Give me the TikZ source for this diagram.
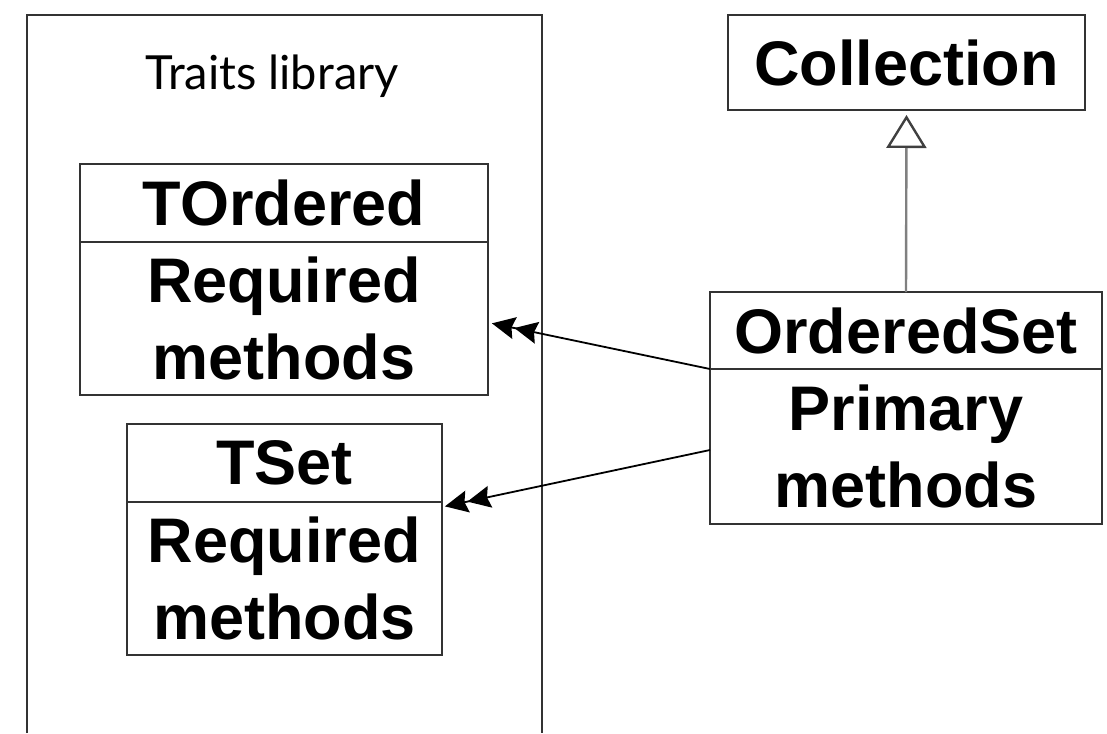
\documentclass[tikz,border=0pt]{standalone}
\usepackage{fontspec}
\setmainfont{Liberation Sans}
\newfontfamily\labelfont{Lato}
\usetikzlibrary{arrows.meta,calc}
\begin{document}
\begin{tikzpicture}[x=1pt,y=-1pt,
  box/.style={draw=black!80, line width=1.8pt, inner sep=0pt, outer sep=0pt,
    align=center, font=\fontsize{63}{77}\selectfont\bfseries},
  uses/.style={draw=black, line width=1.8pt, shorten >=4pt,
    -{Stealth[length=23pt,width=22pt,inset=3pt]Stealth[length=23pt,width=22pt,inset=3pt]}},
  inherits/.style={draw=black!50, line width=2.4pt, shorten >=5pt,
    -{Triangle[length=33pt,width=40pt,fill=white,color=black!75]}},
  frame/.style={draw=black!80, line width=1.8pt}]
\useasboundingbox (0,0) rectangle (1107,733);

% package frame, open at the bottom
\draw[frame] (27,733) |- (542,15) -- (542,733);
\node[anchor=base, font=\labelfont\fontsize{47}{56}\selectfont] (lib) at (272,90) {Traits library};

% trait TOrdered
\node[box, minimum width=408pt, minimum height=78pt] (toh) at (284,203) {TOrdered};
\node[box, minimum width=408pt, minimum height=153pt] (tob) at (284,318.5) {Required\\methods};

% trait TSet
\node[box, minimum width=315pt, minimum height=78pt] (tsh) at (284.5,463) {TSet};
\node[box, minimum width=315pt, minimum height=153pt] (tsb) at (284.5,578.5) {Required\\methods};

% superclass
\node[box, minimum width=357pt, minimum height=95pt] (col) at (906.5,62.5) {Collection};

% class OrderedSet
\node[box, minimum width=392pt, minimum height=77pt] (osh) at (906,330.5) {OrderedSet};
\node[box, minimum width=392pt, minimum height=155pt] (osb) at (906,446.5) {Primary\\methods};

% relations
\draw[inherits] (osh.north) -- (col.south);
\draw[uses] (osh.south west) -- ([yshift=-4pt]tob.east);
\draw[uses, shorten >=3pt] ([yshift=-3.5pt]osb.west) -- ([yshift=-5pt]tsh.south east);
\end{tikzpicture}
\end{document}
